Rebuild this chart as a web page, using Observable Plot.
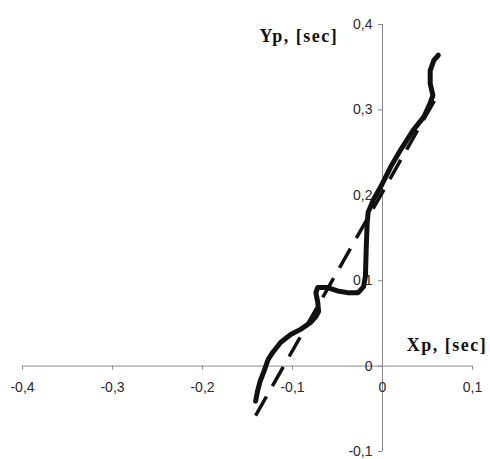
<!DOCTYPE html>
<html>
<head>
<meta charset="utf-8">
<script src="https://cdn.jsdelivr.net/npm/d3@7"></script>
<script src="https://cdn.jsdelivr.net/npm/@observablehq/plot@0.6"></script>
<style>
  html, body { margin: 0; padding: 0; background: #fff; }
</style>
</head>
<body>
<div id="chart"></div>
<script>
// Measured curve (solid)
const measuredX = [-0.141,-0.139,-0.136,-0.132,-0.127,-0.122,-0.113,-0.102,-0.091,-0.080,-0.074,-0.071,-0.072,-0.074,-0.072,-0.061,-0.050,-0.039,-0.027,-0.021,-0.019,-0.018,-0.017,-0.016,-0.010,-0.002,0.009,0.020,0.034,0.046,0.053,0.056,0.053,0.053,0.057,0.062];
const measuredY = [-0.041,-0.030,-0.018,-0.007,0.008,0.016,0.028,0.037,0.043,0.051,0.058,0.064,0.075,0.086,0.092,0.092,0.088,0.086,0.086,0.093,0.105,0.140,0.168,0.180,0.195,0.210,0.233,0.253,0.276,0.292,0.308,0.317,0.331,0.346,0.358,0.364];
// Fitted line (dashed)
const fitX = [-0.141, 0.061];
const fitY = [-0.058, 0.317];
// Ticks
const xTicks = [-0.4, -0.3, -0.2, -0.1, 0, 0.1];
const xTickLabels = ["-0,4", "-0,3", "-0,2", "-0,1", "0", "0,1"];
const yTicks = [-0.1, 0, 0.1, 0.2, 0.3, 0.4];
const yTickLabels = ["-0,1", "0", "0,1", "0,2", "0,3", "0,4"];
const xTitle = "Xp, [sec]";
const yTitle = "Yp, [sec]";

const measured = measuredX.map((x, i) => ({x, y: measuredY[i]}));
const fit = fitX.map((x, i) => ({x, y: fitY[i]}));
const xt = xTicks.map((v, i) => ({v, label: xTickLabels[i]}));
const yt = yTicks.map((v, i) => ({v, label: yTickLabels[i]}));

const axisColor = "#8a8a8a";
const labelFont = "'Liberation Sans', Arial, sans-serif";
const titleFont = "'Liberation Serif', 'Times New Roman', serif";

const chart = Plot.plot({
  width: 490,
  height: 459,
  marginLeft: 22,
  marginRight: 18,
  marginTop: 24,
  marginBottom: 8,
  x: {domain: [-0.4, 0.1], axis: null},
  y: {domain: [-0.1, 0.4], axis: null},
  style: {background: "#fff", fontFamily: labelFont, fontSize: "14px"},
  marks: [
    // axis lines
    Plot.ruleY([0], {x1: -0.4, x2: 0.1, stroke: axisColor, strokeWidth: 1}),
    Plot.ruleX([0], {y1: -0.1, y2: 0.4, stroke: axisColor, strokeWidth: 1}),
    // tick marks
    Plot.ruleX(xt, {x: "v", y1: 0, y2: 0, insetBottom: -4, stroke: axisColor}),
    Plot.ruleY(yt, {y: "v", x1: 0, x2: 0, insetLeft: -4, stroke: axisColor}),
    // tick labels
    Plot.text(xt, {x: "v", y: 0, dy: 21, text: "label", fill: "#2a2a2a", fontSize: 14}),
    Plot.text(yt, {x: 0, y: "v", dx: -10, text: "label", textAnchor: "end", fill: "#2a2a2a", fontSize: 14}),
    // data
    Plot.line(fit, {x: "x", y: "y", stroke: "#111", strokeWidth: 3.5, strokeDasharray: "22,12", strokeLinecap: "butt"}),
    Plot.line(measured, {x: "x", y: "y", stroke: "#111", strokeWidth: 5, strokeLinejoin: "round", strokeLinecap: "round", curve: "linear"}),
    // axis titles
    Plot.text([yTitle], {x: -0.093, y: 0.386, text: d => d, fontFamily: titleFont, fontWeight: "bold", fontSize: 18, fill: "#111", textAnchor: "middle"}),
    Plot.text([xTitle], {x: 0.0717, y: 0.0245, text: d => d, fontFamily: titleFont, fontWeight: "bold", fontSize: 18, fill: "#111", textAnchor: "middle"})
  ]
});
chart.querySelectorAll("text").forEach(t => {
  if (t.textContent === xTitle || t.textContent === yTitle) t.setAttribute("letter-spacing", "1.5");
});
document.getElementById("chart").appendChild(chart);
</script>
</body>
</html>
